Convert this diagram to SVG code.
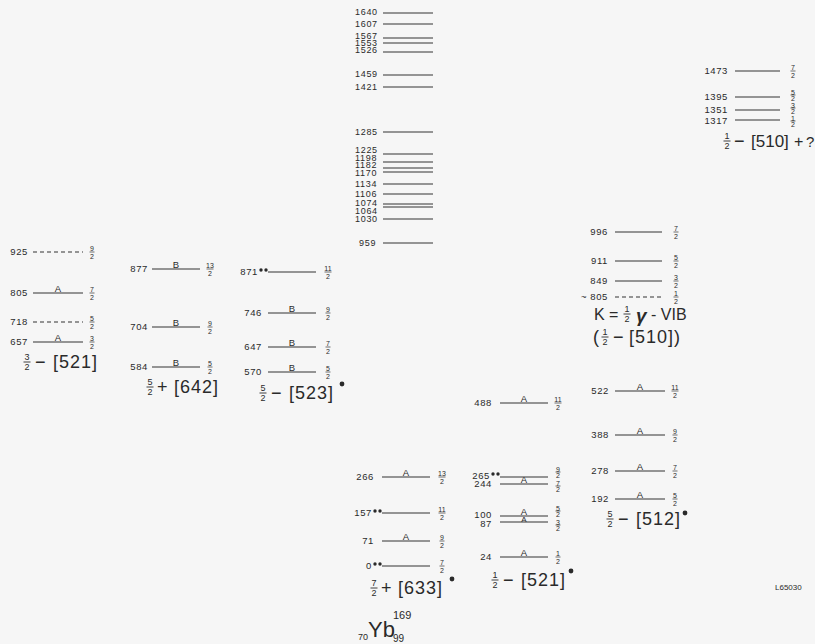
<svg xmlns="http://www.w3.org/2000/svg" width="815" height="644" viewBox="0 0 815 644">
<style>
text{font-family:"Liberation Sans",Arial,sans-serif;fill:#2a2a2a}
.lv{stroke:#333;stroke-width:1}
.ds{stroke:#333;stroke-width:1;stroke-dasharray:4,3}
.n{font-size:9.5px;text-anchor:end;letter-spacing:0.6px}
.ns{font-size:9px;letter-spacing:0.7px}
.l{font-size:9.5px;text-anchor:middle}
.s{font-size:7px;text-anchor:middle}
.sb{stroke:#333;stroke-width:0.7}
.f{font-size:9px;text-anchor:middle}
.fb{stroke:#2a2a2a;stroke-width:0.9}
.b{font-size:18px;letter-spacing:1px}
.dot{fill:#2a2a2a}
</style>
<rect width="815" height="644" fill="#f6f6f6"/>
<g id="connectors"/>

<!-- Band 3/2-[521] -->
<g id="band-32-521">
<g id="l925"><line class="ds" x1="33" y1="252" x2="83" y2="252"/><text class="n" x="28" y="255">925</text><g transform="translate(92,252)"><text class="s" y="-1">9</text><line class="sb" x1="-2.5" x2="2.5"/><text class="s" y="6.5">2</text></g></g>
<g id="l805"><line class="lv" x1="33" y1="293" x2="83" y2="293"/><text class="n" x="28" y="296">805</text><text class="l" x="58" y="292">A</text><g transform="translate(92,293)"><text class="s" y="-1">7</text><line class="sb" x1="-2.5" x2="2.5"/><text class="s" y="6.5">2</text></g></g>
<g id="l718"><line class="ds" x1="33" y1="322" x2="83" y2="322"/><text class="n" x="28" y="325">718</text><g transform="translate(92,322)"><text class="s" y="-1">5</text><line class="sb" x1="-2.5" x2="2.5"/><text class="s" y="6.5">2</text></g></g>
<g id="l657"><line class="lv" x1="33" y1="342" x2="83" y2="342"/><text class="n" x="28" y="345">657</text><text class="l" x="58" y="341">A</text><g transform="translate(92,342)"><text class="s" y="-1">3</text><line class="sb" x1="-2.5" x2="2.5"/><text class="s" y="6.5">2</text></g></g>
<g transform="translate(27,362)"><text class="f" y="-2">3</text><line class="fb" x1="-3.5" x2="3.5"/><text class="f" y="8">2</text></g>
<text class="b" x="35" y="368">−</text><text class="b" x="53" y="368">[521]</text>
</g>

<!-- Band 5/2+[642] -->
<g id="band-52-642">
<g id="l877"><line class="lv" x1="152" y1="269" x2="200" y2="269"/><text class="n" x="148" y="272">877</text><text class="l" x="176" y="268">B</text><g transform="translate(210,269)"><text class="s" y="-1">13</text><line class="sb" x1="-3.5" x2="3.5"/><text class="s" y="6.5">2</text></g></g>
<g id="l704"><line class="lv" x1="152" y1="327" x2="200" y2="327"/><text class="n" x="148" y="330">704</text><text class="l" x="176" y="326">B</text><g transform="translate(210,327)"><text class="s" y="-1">9</text><line class="sb" x1="-2.5" x2="2.5"/><text class="s" y="6.5">2</text></g></g>
<g id="l584"><line class="lv" x1="152" y1="367" x2="200" y2="367"/><text class="n" x="148" y="370">584</text><text class="l" x="176" y="366">B</text><g transform="translate(210,367)"><text class="s" y="-1">5</text><line class="sb" x1="-2.5" x2="2.5"/><text class="s" y="6.5">2</text></g></g>
<g transform="translate(150,387)"><text class="f" y="-2">5</text><line class="fb" x1="-3.5" x2="3.5"/><text class="f" y="8">2</text></g>
<text class="b" x="157" y="393">+</text><text class="b" x="174" y="393">[642]</text>
</g>

<!-- Band 5/2-[523] -->
<g id="band-52-523">
<g id="l871"><line class="lv" x1="268" y1="272" x2="316" y2="272"/><text class="n" x="258" y="275">871</text><circle class="dot" cx="261" cy="270" r="1.7"/><circle class="dot" cx="266" cy="270" r="1.7"/><g transform="translate(328,272)"><text class="s" y="-1">11</text><line class="sb" x1="-3.5" x2="3.5"/><text class="s" y="6.5">2</text></g></g>
<g id="l746"><line class="lv" x1="268" y1="313" x2="316" y2="313"/><text class="n" x="262" y="316">746</text><text class="l" x="292" y="312">B</text><g transform="translate(328,313)"><text class="s" y="-1">9</text><line class="sb" x1="-2.5" x2="2.5"/><text class="s" y="6.5">2</text></g></g>
<g id="l647"><line class="lv" x1="268" y1="347" x2="316" y2="347"/><text class="n" x="262" y="350">647</text><text class="l" x="292" y="346">B</text><g transform="translate(328,347)"><text class="s" y="-1">7</text><line class="sb" x1="-2.5" x2="2.5"/><text class="s" y="6.5">2</text></g></g>
<g id="l570"><line class="lv" x1="268" y1="372" x2="316" y2="372"/><text class="n" x="262" y="375">570</text><text class="l" x="292" y="371">B</text><g transform="translate(328,372)"><text class="s" y="-1">5</text><line class="sb" x1="-2.5" x2="2.5"/><text class="s" y="6.5">2</text></g></g>
<g transform="translate(263,393)"><text class="f" y="-2">5</text><line class="fb" x1="-3.5" x2="3.5"/><text class="f" y="8">2</text></g>
<text class="b" x="271" y="399">−</text><text class="b" x="289" y="399">[523]</text>
<circle class="dot" cx="342" cy="384" r="2.4"/>
</g>

<!-- High levels column -->
<g id="high-levels">
<g id="l1640"><line class="lv" x1="383" y1="13" x2="433" y2="13"/><text class="ns" x="355" y="15">1640</text></g>
<g id="l1607"><line class="lv" x1="383" y1="24" x2="433" y2="24"/><text class="ns" x="355" y="27">1607</text></g>
<g id="l1567"><line class="lv" x1="383" y1="38" x2="433" y2="38"/><text class="ns" x="355" y="39">1567</text></g>
<g id="l1553"><line class="lv" x1="383" y1="43" x2="433" y2="43"/><text class="ns" x="355" y="46">1553</text></g>
<g id="l1526"><line class="lv" x1="383" y1="52" x2="433" y2="52"/><text class="ns" x="355" y="53">1526</text></g>
<g id="l1459"><line class="lv" x1="383" y1="75" x2="433" y2="75"/><text class="ns" x="355" y="77">1459</text></g>
<g id="l1421"><line class="lv" x1="383" y1="87" x2="433" y2="87"/><text class="ns" x="355" y="90">1421</text></g>
<g id="l1285"><line class="lv" x1="383" y1="132" x2="433" y2="132"/><text class="ns" x="355" y="135">1285</text></g>
<g id="l1225"><line class="lv" x1="383" y1="154" x2="433" y2="154"/><text class="ns" x="355" y="153">1225</text></g>
<g id="l1198"><line class="lv" x1="383" y1="162" x2="433" y2="162"/><text class="ns" x="355" y="160.5">1198</text></g>
<g id="l1182"><line class="lv" x1="383" y1="168" x2="433" y2="168"/><text class="ns" x="355" y="168">1182</text></g>
<g id="l1170"><line class="lv" x1="383" y1="172" x2="433" y2="172"/><text class="ns" x="355" y="175.5">1170</text></g>
<g id="l1134"><line class="lv" x1="383" y1="184" x2="433" y2="184"/><text class="ns" x="355" y="187">1134</text></g>
<g id="l1106"><line class="lv" x1="383" y1="194" x2="433" y2="194"/><text class="ns" x="355" y="197">1106</text></g>
<g id="l1074"><line class="lv" x1="383" y1="204" x2="433" y2="204"/><text class="ns" x="355" y="206">1074</text></g>
<g id="l1064"><line class="lv" x1="383" y1="207" x2="433" y2="207"/><text class="ns" x="355" y="214">1064</text></g>
<g id="l1030"><line class="lv" x1="383" y1="219" x2="433" y2="219"/><text class="ns" x="355" y="222">1030</text></g>
<g id="l959"><line class="lv" x1="383" y1="243" x2="433" y2="243"/><text class="ns" x="359" y="246">959</text></g>
</g>

<!-- Band 7/2+[633] ground -->
<g id="band-72-633">
<g id="l266"><line class="lv" x1="382" y1="477" x2="430" y2="477"/><text class="n" x="374" y="480">266</text><text class="l" x="406" y="476">A</text><g transform="translate(442,477)"><text class="s" y="-1">13</text><line class="sb" x1="-3.5" x2="3.5"/><text class="s" y="6.5">2</text></g></g>
<g id="l157"><line class="lv" x1="382" y1="513" x2="430" y2="513"/><text class="n" x="372" y="516">157</text><circle class="dot" cx="375" cy="511" r="1.7"/><circle class="dot" cx="380" cy="511" r="1.7"/><g transform="translate(442,513)"><text class="s" y="-1">11</text><line class="sb" x1="-3.5" x2="3.5"/><text class="s" y="6.5">2</text></g></g>
<g id="l71"><line class="lv" x1="382" y1="541" x2="430" y2="541"/><text class="n" x="374" y="544">71</text><text class="l" x="406" y="540">A</text><g transform="translate(442,541)"><text class="s" y="-1">9</text><line class="sb" x1="-2.5" x2="2.5"/><text class="s" y="6.5">2</text></g></g>
<g id="l0"><line class="lv" x1="382" y1="566" x2="430" y2="566"/><text class="n" x="372" y="569">0</text><circle class="dot" cx="375" cy="564" r="1.7"/><circle class="dot" cx="380" cy="564" r="1.7"/><g transform="translate(442,566)"><text class="s" y="-1">7</text><line class="sb" x1="-2.5" x2="2.5"/><text class="s" y="6.5">2</text></g></g>
<g transform="translate(374,588)"><text class="f" y="-2">7</text><line class="fb" x1="-3.5" x2="3.5"/><text class="f" y="8">2</text></g>
<text class="b" x="381" y="594">+</text><text class="b" x="398" y="594">[633]</text>
<circle class="dot" cx="452" cy="579" r="2.4"/>
</g>

<!-- Band 1/2-[521] -->
<g id="band-12-521">
<g id="l488"><line class="lv" x1="500" y1="403" x2="548" y2="403"/><text class="n" x="492" y="406">488</text><text class="l" x="524" y="402">A</text><g transform="translate(558,403)"><text class="s" y="-1">11</text><line class="sb" x1="-3.5" x2="3.5"/><text class="s" y="6.5">2</text></g></g>
<g id="l265"><line class="lv" x1="500" y1="477" x2="548" y2="477"/><text class="n" x="490" y="479">265</text><circle class="dot" cx="493" cy="474" r="1.7"/><circle class="dot" cx="498" cy="474" r="1.7"/><g transform="translate(558,472)"><text class="s" y="-0.5">9</text><line class="sb" x1="-2.5" x2="2.5"/><text class="s" y="6">2</text></g></g>
<g id="l244"><line class="lv" x1="500" y1="484" x2="548" y2="484"/><text class="n" x="492" y="487">244</text><text class="l" x="524" y="483">A</text><g transform="translate(558,486)"><text class="s" y="-0.5">7</text><line class="sb" x1="-2.5" x2="2.5"/><text class="s" y="6">2</text></g></g>
<g id="l100"><line class="lv" x1="500" y1="516" x2="548" y2="516"/><text class="n" x="492" y="518">100</text><text class="l" x="524" y="515">A</text><g transform="translate(558,511)"><text class="s" y="-0.5">5</text><line class="sb" x1="-2.5" x2="2.5"/><text class="s" y="6">2</text></g></g>
<g id="l87"><line class="lv" x1="500" y1="522" x2="548" y2="522"/><text class="n" x="492" y="527">87</text><text style="font-size:8px;text-anchor:middle" x="524" y="521.5">A</text><g transform="translate(558,525)"><text class="s" y="-0.5">3</text><line class="sb" x1="-2.5" x2="2.5"/><text class="s" y="6">2</text></g></g>
<g id="l24"><line class="lv" x1="500" y1="557" x2="548" y2="557"/><text class="n" x="492" y="560">24</text><text class="l" x="524" y="556">A</text><g transform="translate(558,557)"><text class="s" y="-1">1</text><line class="sb" x1="-2.5" x2="2.5"/><text class="s" y="6.5">2</text></g></g>
<g transform="translate(495,580)"><text class="f" y="-2">1</text><line class="fb" x1="-3.5" x2="3.5"/><text class="f" y="8">2</text></g>
<text class="b" x="503" y="586">−</text><text class="b" x="521" y="586">[521]</text>
<circle class="dot" cx="571" cy="571" r="2.4"/>
</g>

<!-- Band 5/2-[512] -->
<g id="band-52-512">
<g id="l522"><line class="lv" x1="615" y1="391" x2="665" y2="391"/><text class="n" x="609" y="394">522</text><text class="l" x="640" y="390">A</text><g transform="translate(675,391)"><text class="s" y="-1">11</text><line class="sb" x1="-3.5" x2="3.5"/><text class="s" y="6.5">2</text></g></g>
<g id="l388"><line class="lv" x1="615" y1="435" x2="665" y2="435"/><text class="n" x="609" y="438">388</text><text class="l" x="640" y="434">A</text><g transform="translate(675,435)"><text class="s" y="-1">9</text><line class="sb" x1="-2.5" x2="2.5"/><text class="s" y="6.5">2</text></g></g>
<g id="l278"><line class="lv" x1="615" y1="471" x2="665" y2="471"/><text class="n" x="609" y="474">278</text><text class="l" x="640" y="470">A</text><g transform="translate(675,471)"><text class="s" y="-1">7</text><line class="sb" x1="-2.5" x2="2.5"/><text class="s" y="6.5">2</text></g></g>
<g id="l192"><line class="lv" x1="615" y1="499" x2="665" y2="499"/><text class="n" x="609" y="502">192</text><text class="l" x="640" y="498">A</text><g transform="translate(675,499)"><text class="s" y="-1">5</text><line class="sb" x1="-2.5" x2="2.5"/><text class="s" y="6.5">2</text></g></g>
<g transform="translate(610,519)"><text class="f" y="-2">5</text><line class="fb" x1="-3.5" x2="3.5"/><text class="f" y="8">2</text></g>
<text class="b" x="618" y="525">−</text><text class="b" x="636" y="525">[512]</text>
<circle class="dot" cx="685" cy="513" r="2.4"/>
</g>

<!-- Gamma vibration band -->
<g id="band-gamma-vib">
<g id="l996"><line class="lv" x1="615" y1="232" x2="662" y2="232"/><text class="n" x="608" y="235">996</text><g transform="translate(676,232)"><text class="s" y="-1">7</text><line class="sb" x1="-2.5" x2="2.5"/><text class="s" y="6.5">2</text></g></g>
<g id="l911"><line class="lv" x1="615" y1="261" x2="662" y2="261"/><text class="n" x="608" y="264">911</text><g transform="translate(676,261)"><text class="s" y="-1">5</text><line class="sb" x1="-2.5" x2="2.5"/><text class="s" y="6.5">2</text></g></g>
<g id="l849"><line class="lv" x1="615" y1="281" x2="662" y2="281"/><text class="n" x="608" y="284">849</text><g transform="translate(676,281)"><text class="s" y="-1">3</text><line class="sb" x1="-2.5" x2="2.5"/><text class="s" y="6.5">2</text></g></g>
<g id="l805g"><line class="ds" x1="615" y1="297" x2="662" y2="297"/><text class="n" x="608" y="300">~ 805</text><g transform="translate(676,297)"><text class="s" y="-1">1</text><line class="sb" x1="-2.5" x2="2.5"/><text class="s" y="6.5">2</text></g></g>
<text style="font-size:16px" x="594" y="320">K =</text>
<g transform="translate(627,314)"><text class="f" y="-2">1</text><line class="fb" x1="-3.5" x2="3.5"/><text class="f" y="8">2</text></g>
<text style="font-size:19px;font-style:italic;font-weight:bold" x="636" y="322">γ</text>
<text style="font-size:16px" x="651" y="320">- VIB</text>
<text class="b" x="593" y="343">(</text>
<g transform="translate(605,337)"><text class="f" y="-2">1</text><line class="fb" x1="-3.5" x2="3.5"/><text class="f" y="8">2</text></g>
<text class="b" x="613" y="343">−</text><text class="b" x="629" y="343">[510])</text>
</g>

<!-- Band 1/2-[510]+? -->
<g id="band-12-510">
<g id="l1473"><line class="lv" x1="735" y1="71" x2="780" y2="71"/><text class="n" x="728" y="74">1473</text><g transform="translate(793,71)"><text class="s" y="-1">7</text><line class="sb" x1="-2.5" x2="2.5"/><text class="s" y="6.5">2</text></g></g>
<g id="l1395"><line class="lv" x1="735" y1="97" x2="780" y2="97"/><text class="n" x="728" y="100">1395</text><g transform="translate(793,95)"><text class="s" y="-0.5">5</text><line class="sb" x1="-2.5" x2="2.5"/><text class="s" y="6">2</text></g></g>
<g id="l1351"><line class="lv" x1="735" y1="110" x2="780" y2="110"/><text class="n" x="728" y="113">1351</text><g transform="translate(793,108)"><text class="s" y="-0.5">3</text><line class="sb" x1="-2.5" x2="2.5"/><text class="s" y="6">2</text></g></g>
<g id="l1317"><line class="lv" x1="735" y1="120" x2="780" y2="120"/><text class="n" x="728" y="124">1317</text><g transform="translate(793,121)"><text class="s" y="-0.5">1</text><line class="sb" x1="-2.5" x2="2.5"/><text class="s" y="6">2</text></g></g>
<g transform="translate(727,141)"><text class="f" y="-2">1</text><line class="fb" x1="-3.5" x2="3.5"/><text class="f" y="8">2</text></g>
<text class="b" x="734" y="147">−</text><text style="font-size:17px" x="751" y="147">[510]</text><text style="font-size:16px" x="794" y="147">+</text><text style="font-size:15px" x="806" y="147">?</text>
</g>

<g id="nucleus">
<text style="font-size:9px" x="358" y="640">70</text>
<text style="font-size:22px" x="368" y="637">Yb</text>
<text style="font-size:11px" x="393" y="619">169</text>
<text style="font-size:10px" x="393" y="642">99</text>
</g>
<text style="font-size:8px" x="775" y="590">L65030</text>
</svg>
